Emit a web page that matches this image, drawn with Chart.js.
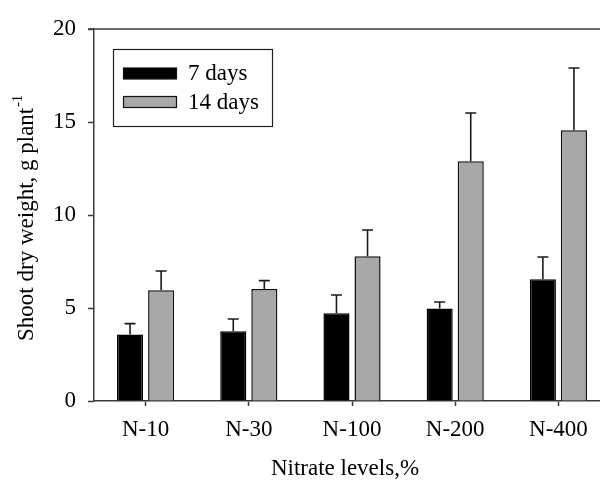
<!DOCTYPE html>
<html>
<head>
<meta charset="utf-8">
<script src="https://cdn.jsdelivr.net/npm/chart.js@4.4.1/dist/chart.umd.min.js"></script>
<style>
html,body{margin:0;padding:0;background:#fff;overflow:hidden;}
#wrap{width:612px;height:481px;}
</style>
</head>
<body>
<div id="wrap"><canvas id="c" width="612" height="481"></canvas></div>
<script>
const categories = ['N-10', 'N-30', 'N-100', 'N-200', 'N-400'];
const days7 = [3.57, 3.75, 4.72, 4.97, 6.54];
const days7Err = [0.59, 0.66, 0.98, 0.35, 1.20];
const days14 = [5.95, 6.02, 7.78, 12.89, 14.55];
const days14Err = [1.04, 0.45, 1.41, 2.59, 3.35];
const yTicks = [0, 5, 10, 15, 20];
const seriesLabels = ['7 days', '14 days'];
const xTitle = 'Nitrate levels,%';
const yTitleMain = 'Shoot dry weight, g plant';
const yTitleSup = '-1';

const SERIF = '"Liberation Serif", "Times New Roman", serif';
const AXIS = '#3a3a3a';
const FS = 23;

const errorBars = {
  id: 'errorBars',
  afterDatasetsDraw(chart) {
    const ctx = chart.ctx;
    const ys = chart.scales.y;
    const errs = [days7Err, days14Err];
    ctx.save();
    ctx.strokeStyle = '#1a1a1a';
    ctx.lineWidth = 1.6;
    chart.data.datasets.forEach((ds, di) => {
      const meta = chart.getDatasetMeta(di);
      meta.data.forEach((bar, i) => {
        const v = ds.data[i], e = errs[di][i];
        const yTop = ys.getPixelForValue(v + e);
        const yBar = ys.getPixelForValue(v);
        ctx.beginPath();
        ctx.moveTo(bar.x, yBar);
        ctx.lineTo(bar.x, yTop);
        ctx.moveTo(bar.x - 5.5, yTop);
        ctx.lineTo(bar.x + 5.5, yTop);
        ctx.stroke();
      });
    });
    ctx.restore();
  }
};

const extras = {
  id: 'extras',
  afterDraw(chart) {
    const ctx = chart.ctx;
    const a = chart.chartArea;
    ctx.save();
    // top frame line
    ctx.strokeStyle = AXIS;
    ctx.lineWidth = 1.5;
    ctx.beginPath();
    ctx.moveTo(a.left - 6, a.top);
    ctx.lineTo(a.right, a.top);
    ctx.stroke();

    // legend box
    const lx = a.left + 19, ly = a.top + 20, lw = 159, lh = 77;
    ctx.lineWidth = 1.2;
    ctx.strokeStyle = '#222';
    ctx.strokeRect(lx + 0.5, ly + 0.5, lw, lh);
    chart.data.datasets.forEach((ds, i) => {
      const sy = ly + 19 + i * 28.5;
      ctx.fillStyle = ds.backgroundColor;
      ctx.fillRect(lx + 10.5, sy, 53, 11);
      ctx.strokeStyle = '#111';
      ctx.lineWidth = 1.2;
      ctx.strokeRect(lx + 10.5, sy, 53, 11);
      ctx.fillStyle = '#000';
      ctx.font = FS + 'px ' + SERIF;
      ctx.textBaseline = 'middle';
      ctx.textAlign = 'left';
      ctx.fillText(ds.label, lx + 75, sy + 6);
    });

    // x title
    ctx.fillStyle = '#000';
    ctx.font = FS + 'px ' + SERIF;
    ctx.textAlign = 'center';
    ctx.textBaseline = 'middle';
    ctx.fillText(xTitle, (a.left + a.right) / 2 - 7, a.bottom + 68);

    // y title with superscript
    ctx.font = FS + 'px ' + SERIF;
    const w1 = ctx.measureText(yTitleMain).width;
    ctx.font = '14px ' + SERIF;
    const w2 = ctx.measureText(yTitleSup).width;
    const total = w1 + 1 + w2;
    const cy = (a.top + a.bottom) / 2 + 3;
    ctx.translate(27, cy);
    ctx.rotate(-Math.PI / 2);
    ctx.textAlign = 'left';
    ctx.textBaseline = 'middle';
    ctx.font = FS + 'px ' + SERIF;
    ctx.fillText(yTitleMain, -total / 2, 0);
    ctx.font = '14px ' + SERIF;
    ctx.fillText(yTitleSup, -total / 2 + w1 + 1, -9);
    ctx.restore();
  }
};

new Chart(document.getElementById('c'), {
  type: 'bar',
  data: {
    labels: categories,
    datasets: [
      { label: seriesLabels[0], data: days7, backgroundColor: '#000000', borderColor: '#000000', borderWidth: 1.5 },
      { label: seriesLabels[1], data: days14, backgroundColor: '#a8a8a8', borderColor: '#111111', borderWidth: 1.5 }
    ]
  },
  options: {
    responsive: false,
    animation: false,
    devicePixelRatio: 1,
    layout: { padding: { top: 29, right: 2, left: 0, bottom: 0 } },
    datasets: { bar: { barPercentage: 0.84, categoryPercentage: 0.602 } },
    plugins: { legend: { display: false }, tooltip: { enabled: false } },
    scales: {
      x: {
        grid: { display: true, drawOnChartArea: false, drawTicks: true, tickLength: 5, tickColor: AXIS, tickWidth: 1.5, offset: false },
        border: { display: true, color: AXIS, width: 1.5 },
        ticks: { color: '#000', font: { family: SERIF, size: FS }, padding: 10, maxRotation: 0 },
        title: { display: false },
        afterFit(s) { s.height = 80; }
      },
      y: {
        min: 0, max: 20,
        afterBuildTicks(s) { s.ticks = yTicks.map(v => ({ value: v })); },
        grid: { display: true, drawOnChartArea: false, drawTicks: true, tickLength: 6, tickColor: AXIS, tickWidth: 1.5 },
        border: { display: true, color: AXIS, width: 1.5 },
        ticks: { color: '#000', font: { family: SERIF, size: FS }, padding: 12 },
        afterFit(s) { s.width = 94; }
      }
    }
  },
  plugins: [errorBars, extras]
});
</script>
</body>
</html>
